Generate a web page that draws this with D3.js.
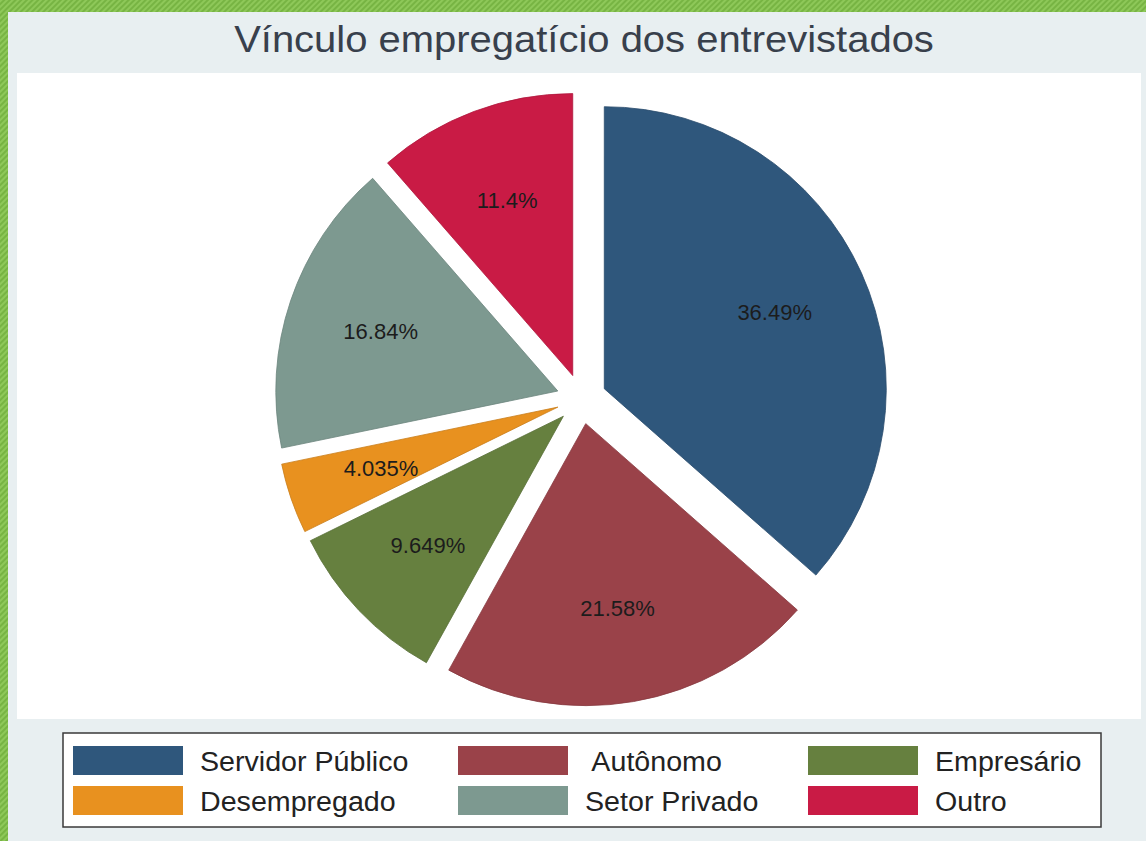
<!DOCTYPE html>
<html>
<head>
<meta charset="utf-8">
<script src="https://cdn.jsdelivr.net/npm/d3@7"></script>
<style>
  html, body { margin: 0; padding: 0; background: #80bb4c; }
  svg { display: block; }
  text { font-family: "Liberation Sans", Arial, sans-serif; }
</style>
</head>
<body>
<svg class="chart" width="1146" height="841"></svg>
<script>
var categories = ["Servidor Público", " Autônomo", "Empresário", "Desempregado", "Setor Privado", "Outro"];
var shares = [36.49, 21.58, 9.649, 4.035, 16.84, 11.4];
var shareLabels = ["36.49%", "21.58%", "9.649%", "4.035%", "16.84%", "11.4%"];
var colors = ["#2f577c", "#9a4249", "#66803f", "#e8911f", "#7d9990", "#c91b45"];
var title = "Vínculo empregatício dos entrevistados";

var width = 1146, height = 841;
var cx = 581.5, cy = 399, radius = 282, explode = 25, labelDist = 187;

var svg = d3.select(".chart");

// striped green frame
var defs = svg.append("defs");
var pat = defs.append("pattern")
    .attr("id", "stripes")
    .attr("width", 4).attr("height", 4)
    .attr("patternUnits", "userSpaceOnUse")
    .attr("patternTransform", "rotate(45)");
pat.append("rect").attr("width", 4).attr("height", 4).attr("fill", "#77b443");
pat.append("rect").attr("width", 2).attr("height", 4).attr("fill", "#8ec859");

svg.append("rect").attr("width", width).attr("height", height).attr("fill", "url(#stripes)");

// outer panel + plot region
svg.append("rect").attr("x", 8).attr("y", 12).attr("width", width - 8).attr("height", height - 12)
    .attr("fill", "#e8eff1");
svg.append("rect").attr("x", 17).attr("y", 73).attr("width", 1124).attr("height", 646)
    .attr("fill", "#ffffff");

// title
var t = svg.append("text")
    .attr("x", 584).attr("y", 52)
    .attr("text-anchor", "middle")
    .attr("font-size", 36)
    .attr("fill", "#38404c")
    .text(title);
t.attr("textLength", t.node().getComputedTextLength() * 1.11)
    .attr("lengthAdjust", "spacingAndGlyphs");

// pie
var pie = d3.pie().sort(null).value(function(d) { return d; });
var arc = d3.arc().innerRadius(0).outerRadius(radius);
var arcs = pie(shares);

function offset(d, dist) {
    var mid = (d.startAngle + d.endAngle) / 2;
    return [Math.sin(mid) * dist, -Math.cos(mid) * dist];
}

var g = svg.append("g").attr("transform", "translate(" + cx + "," + cy + ")");

var slices = g.selectAll("g.slice")
    .data(arcs)
    .enter()
    .append("g")
    .attr("class", "slice")
    .attr("transform", function(d) {
        var o = offset(d, explode);
        return "translate(" + o[0] + "," + o[1] + ")";
    });

slices.append("path")
    .attr("d", arc)
    .attr("fill", function(d, i) { return colors[i]; })
    .attr("stroke", function(d, i) { return d3.color(colors[i]).darker(0.4); })
    .attr("stroke-width", 0.8);

slices.append("text")
    .attr("x", function(d) { return offset(d, labelDist)[0]; })
    .attr("y", function(d) { return offset(d, labelDist)[1]; })
    .attr("dy", "0.36em")
    .attr("text-anchor", "middle")
    .attr("font-size", 22)
    .attr("fill", "#1c1c1c")
    .text(function(d, i) { return shareLabels[i]; });

// legend
var legend = svg.append("g");
legend.append("rect")
    .attr("x", 63).attr("y", 733).attr("width", 1038).attr("height", 94)
    .attr("fill", "#ffffff")
    .attr("stroke", "#3a3a3a")
    .attr("stroke-width", 1.5);

var colX = [73, 458, 808];
var rowY = [746, 786];

var items = legend.selectAll("g.item")
    .data(categories)
    .enter()
    .append("g")
    .attr("class", "item")
    .attr("transform", function(d, i) {
        return "translate(" + colX[i % 3] + "," + rowY[Math.floor(i / 3)] + ")";
    });

items.append("rect")
    .attr("width", 110).attr("height", 29)
    .attr("fill", function(d, i) { return colors[i]; });

items.append("text")
    .attr("x", 127).attr("y", 25)
    .attr("font-size", 27)
    .attr("fill", "#222")
    .style("white-space", "pre")
    .text(function(d) { return d; })
    .each(function() {
        var n = d3.select(this);
        n.attr("textLength", this.getComputedTextLength() * 1.06)
         .attr("lengthAdjust", "spacingAndGlyphs");
    });
</script>
</body>
</html>
